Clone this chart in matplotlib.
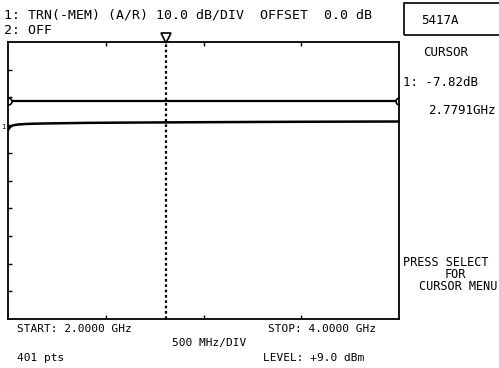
import matplotlib
matplotlib.use("Agg")
import matplotlib.pyplot as plt
import matplotlib.transforms as mtransforms

W, H = 499, 368

# trace 1 (dB), 2.0 - 4.0 GHz
freq_ghz = [2.0, 2.005, 2.012, 2.025, 2.05, 2.09, 2.13, 2.2, 2.3, 2.4, 2.6, 2.81, 3.0, 3.25, 3.5, 3.75, 4.0]
trace_db = [-10.6, -10.0, -9.4, -8.9, -8.6, -8.4, -8.3, -8.2, -8.1, -8.0, -7.9, -7.82, -7.75, -7.67, -7.6, -7.55, -7.5]
ref_db = 0.0
cursor_line_ghz = 2.81   # where the dotted cursor sits on screen
cursor_ghz = 2.7791      # read-out
cursor_db = -7.82

f_start, f_stop = 2.0, 4.0
db_top, db_bottom = 21.2, -78.8
x_ticks = [2.5, 3.0, 3.5]
y_ticks = [11.2, 1.2, -8.8, -18.8, -28.8, -38.8, -48.8, -58.8, -68.8]

MONO = "DejaVu Sans Mono"


def px(x, y):
    # pixel position -> figure fraction
    return x / W, 1 - y / H


fig = plt.figure(figsize=(W / 100, H / 100), dpi=100)
fig.patch.set_facecolor("white")

left, top, right, bottom = 8, 42, 399, 319
ax = fig.add_axes([left / W, 1 - bottom / H, (right - left) / W, (bottom - top) / H])
ax.set_xlim(f_start, f_stop)
ax.set_ylim(db_bottom, db_top)
for s in ax.spines.values():
    s.set_linewidth(1.3)
    s.set_color("black")
ax.set_xticks(x_ticks)
ax.set_yticks(y_ticks)
ax.tick_params(direction="in", length=3, width=1, top=True, right=False,
               labelbottom=False, labelleft=False)

# reference line with end markers
ax.plot([f_start, f_stop], [ref_db, ref_db], color="black", lw=1.6,
        marker="o", ms=5, mfc="white", mec="black", mew=1.2)

# measured trace
ax.plot(freq_ghz, trace_db, color="black", lw=1.8)

# cursor
ax.axvline(cursor_line_ghz, color="black", lw=1.6, ls=(0, (1.2, 1.2)))
trans = mtransforms.blended_transform_factory(ax.transData, ax.transAxes)
ax.plot([cursor_line_ghz], [1.015], marker="v", ms=7, mfc="white", mec="black",
        mew=1.2, transform=trans, clip_on=False)

fig.text(*px(1, 127), "1", fontsize=5, family=MONO, va="center")

# header
fig.text(*px(4, 15), "1: TRN(-MEM) (A/R) 10.0 dB/DIV  OFFSET  0.0 dB",
         fontsize=9.5, family=MONO, va="center")
fig.text(*px(4, 31), "2: OFF", fontsize=9.5, family=MONO, va="center")

# right panel
box = plt.Rectangle(px(404, 35), 100 / W, 32 / H, transform=fig.transFigure,
                    fill=False, lw=1.2, ec="black")
fig.add_artist(box)
fig.text(*px(440, 20), "5417A", fontsize=9, family=MONO, ha="center", va="center")
fig.text(*px(446, 52), "CURSOR", fontsize=9, family=MONO, ha="center", va="center")
fig.text(*px(403, 82), "1: %.2fdB" % cursor_db, fontsize=9, family=MONO, va="center")
fig.text(*px(428, 110), "%.4fGHz" % cursor_ghz, fontsize=9, family=MONO, va="center")
fig.text(*px(403, 262), "PRESS SELECT", fontsize=8.5, family=MONO, va="center")
fig.text(*px(455, 274), "FOR", fontsize=8.5, family=MONO, ha="center", va="center")
fig.text(*px(419, 286), "CURSOR MENU", fontsize=8.5, family=MONO, va="center")

# footer
fig.text(*px(17, 329), "START: %.4f GHz" % f_start, fontsize=8, family=MONO, va="center")
fig.text(*px(268, 329), "STOP: %.4f GHz" % f_stop, fontsize=8, family=MONO, va="center")
fig.text(*px(172, 343), "500 MHz/DIV", fontsize=8, family=MONO, va="center")
fig.text(*px(17, 358), "401 pts", fontsize=8, family=MONO, va="center")
fig.text(*px(263, 358), "LEVEL: +9.0 dBm", fontsize=8, family=MONO, va="center")

fig.savefig("out.png", dpi=100, facecolor="white")
